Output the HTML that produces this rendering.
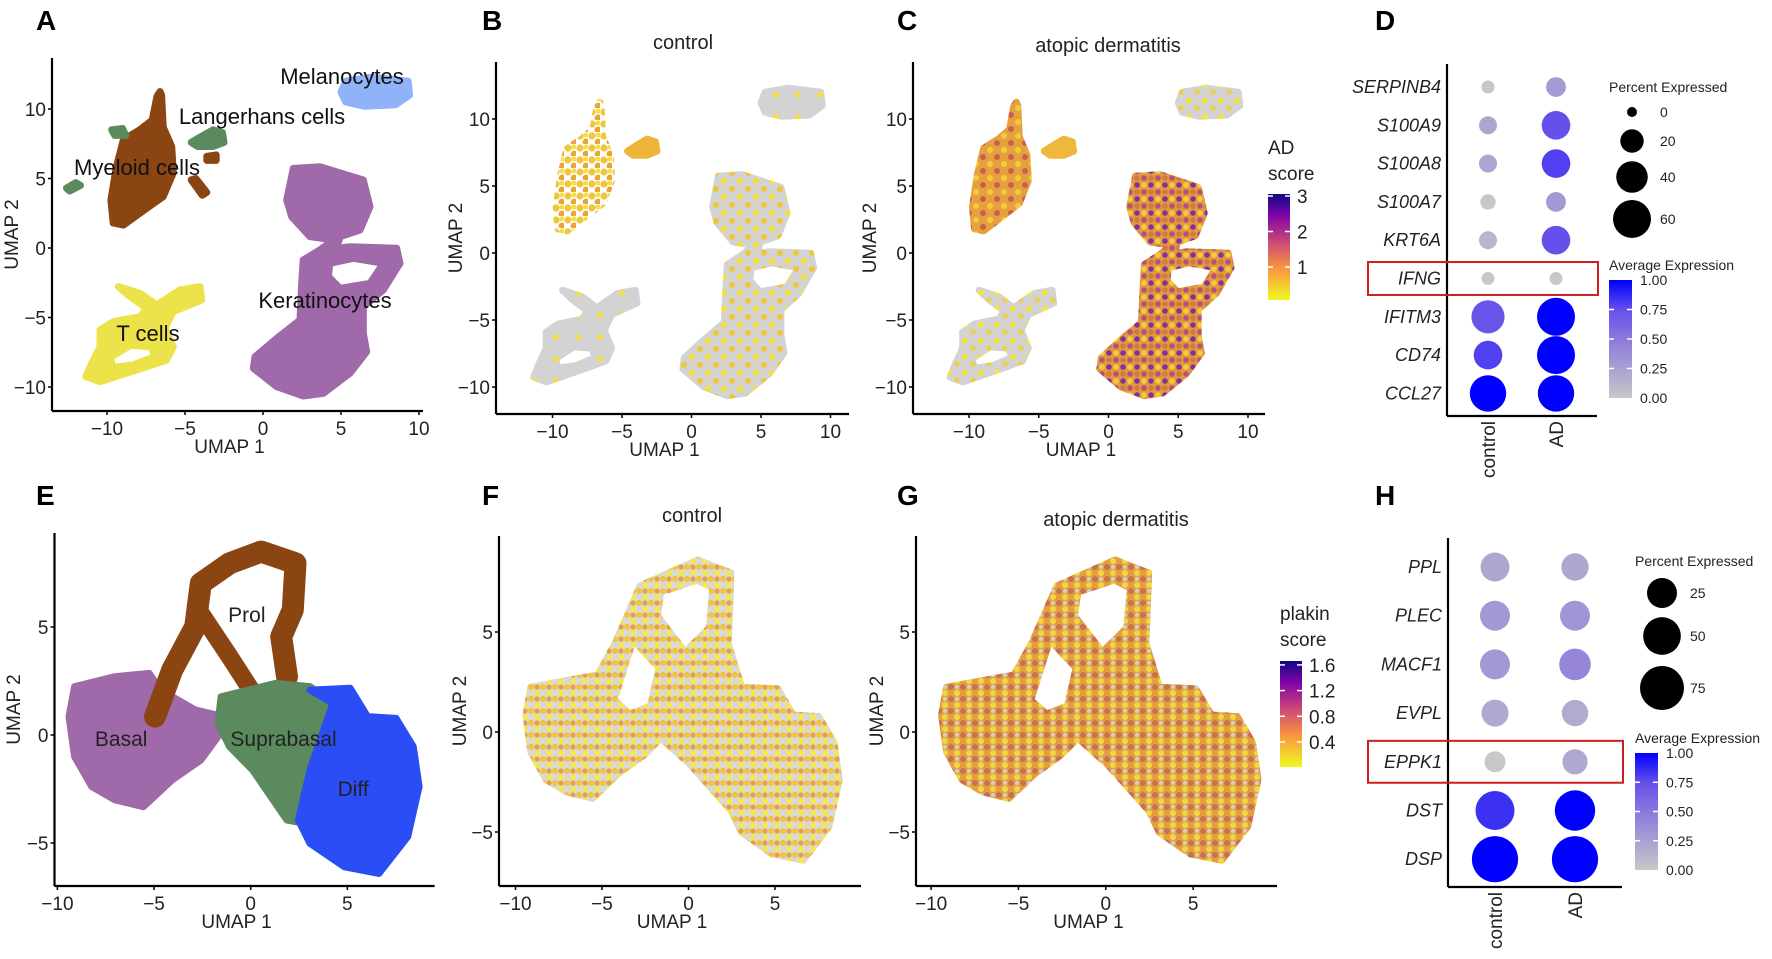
<!DOCTYPE html>
<html><head><meta charset="utf-8">
<style>
html,body{margin:0;padding:0;background:#fff;}
svg{display:block;font-family:"Liberation Sans",sans-serif;}
.t{font-size:19px;fill:#222;}
.lab{font-size:22px;fill:#111;}
.big{font-size:28px;font-weight:bold;fill:#000;}
.gene{font-size:18px;font-style:italic;fill:#222;}
.leg{font-size:14px;fill:#222;}
</style></head>
<body>
<svg id="fig" width="1772" height="959" viewBox="0 0 1772 959">
<defs>
 <pattern id="patKB" width="16" height="16" patternUnits="userSpaceOnUse"><rect width="16" height="16" fill="#d3d3d3"/><circle cx="4" cy="5" r="3.2" fill="#f3df3e"/><circle cx="12" cy="13" r="3" fill="#efc63a"/></pattern>
 <pattern id="patGB" width="22" height="22" patternUnits="userSpaceOnUse"><rect width="22" height="22" fill="#d3d3d3"/><circle cx="6" cy="7" r="3" fill="#f3e03e"/></pattern>
 <pattern id="patMB" width="12" height="12" patternUnits="userSpaceOnUse"><circle cx="4" cy="4" r="3.6" fill="#f0c63c"/><circle cx="10" cy="10" r="3.4" fill="#e8a53a"/><circle cx="10" cy="3" r="2.5" fill="#f5df45"/></pattern>
 <pattern id="patKC" width="14" height="14" patternUnits="userSpaceOnUse"><rect width="14" height="14" fill="#e09a3e"/><circle cx="3" cy="3" r="2.8" fill="#8a2e9a"/><circle cx="10" cy="10" r="2.8" fill="#b8507a"/><circle cx="10" cy="3" r="2.8" fill="#f2cc3c"/><circle cx="3" cy="10" r="2.8" fill="#d07a44"/></pattern>
 <pattern id="patMC" width="14" height="14" patternUnits="userSpaceOnUse"><rect width="14" height="14" fill="#e6a03e"/><circle cx="3" cy="3" r="3" fill="#c8604e"/><circle cx="10" cy="10" r="3" fill="#f2cc3c"/></pattern>
 <pattern id="patGC" width="16" height="16" patternUnits="userSpaceOnUse"><rect width="16" height="16" fill="#d3d3d3"/><circle cx="5" cy="5" r="3" fill="#f4e43e"/><circle cx="13" cy="12" r="2.6" fill="#f1d040"/></pattern>
 <pattern id="patF" width="12" height="12" patternUnits="userSpaceOnUse"><rect width="12" height="12" fill="#d8d8d8"/><circle cx="3" cy="3" r="3" fill="#f1c43c"/><circle cx="9" cy="9" r="3" fill="#f5e84a"/><circle cx="9" cy="3" r="2.6" fill="#e6a040"/></pattern>
 <pattern id="patG" width="12" height="12" patternUnits="userSpaceOnUse"><rect width="12" height="12" fill="#e3a042"/><circle cx="3" cy="3" r="3" fill="#c8704a"/><circle cx="9" cy="9" r="3" fill="#f3d640"/><circle cx="9" cy="3" r="2" fill="#d0d0d0"/></pattern>
 <linearGradient id="plasma" x1="0" y1="1" x2="0" y2="0"><stop offset="0" stop-color="#f0f921"/><stop offset="0.3" stop-color="#f89540"/><stop offset="0.55" stop-color="#cc4778"/><stop offset="0.8" stop-color="#7e03a8"/><stop offset="1" stop-color="#0d0887"/></linearGradient>
 <linearGradient id="blueg" x1="0" y1="1" x2="0" y2="0"><stop offset="0" stop-color="#c8c8c8"/><stop offset="0.25" stop-color="#aaa0d2"/><stop offset="0.5" stop-color="#8c78dc"/><stop offset="0.75" stop-color="#6450eb"/><stop offset="1" stop-color="#0000ff"/></linearGradient>
</defs>
</svg>
<script>
// ---------- UMAP cluster outlines (UMAP coordinates) ----------
const melanocytes=[[5.0,11.2],[5.3,12.0],[7,12.3],[9.3,12.0],[9.4,11.0],[8.5,10.3],[6.5,10.2],[5.3,10.5]];
const myeloid=[[-6.6,11.25],[-6.5,11.0],[-6.4,8.7],[-5.85,7.3],[-5.75,5.4],[-6.4,3.7],[-7.9,2.5],[-8.95,1.65],[-9.6,1.8],[-9.75,3.45],[-9.4,5.85],[-8.95,7.8],[-7.9,8.5],[-7.1,9.2],[-6.8,10.9]];
const langerhans=[[-4.6,7.6],[-4.0,8.0],[-3.2,8.5],[-2.6,8.3],[-2.5,7.6],[-3.2,7.3],[-4.2,7.3]];
const langSmall1=[[-9.7,8.5],[-9.0,8.6],[-8.8,8.1],[-9.5,8.1]];
const langSmall2=[[-12.6,4.3],[-12.0,4.7],[-11.7,4.5],[-12.4,4.1]];
const myeSmall1=[[-4.6,4.9],[-4.3,5.0],[-3.6,4.0],[-3.9,3.8]];
const myeSmall2=[[-3.6,6.6],[-3.0,6.7],[-3.0,6.3],[-3.6,6.3]];
const tcells=[[-9.27,-2.78],[-7.88,-3.26],[-6.81,-4.1],[-5.32,-3.02],[-4.04,-2.78],[-3.93,-3.74],[-5.75,-4.58],[-6.28,-5.78],[-5.75,-7.1],[-6.17,-8.06],[-8.1,-8.78],[-10.45,-9.62],[-11.35,-9.26],[-10.98,-8.3],[-10.45,-7.1],[-10.45,-5.9],[-9.6,-5.3],[-7.88,-4.94],[-7.46,-4.34],[-8.53,-3.5]];
const tHole=[[-9.8,-7.9],[-8.5,-7.0],[-7.2,-7.1],[-6.9,-7.8],[-8.3,-8.4],[-9.6,-8.6]];
const kerat=[[1.94,5.73],[3.65,5.85],[6.43,4.89],[6.86,2.97],[6.22,1.29],[4.94,0.81],[4.72,-0.02],[5.58,0.09],[8.57,-0.02],[8.78,-1.1],[7.71,-3.02],[6.43,-4.22],[6.43,-6.14],[6.65,-7.46],[5.58,-9.01],[3.87,-10.45],[2.58,-10.65],[0.88,-9.98],[-0.62,-8.65],[-0.51,-7.82],[0.88,-6.5],[2.37,-5.18],[2.48,-2.54],[2.58,-0.86],[3.65,-0.14],[4.51,0.58],[3.01,0.81],[1.84,2.25],[1.52,3.45]];
const kHole=[[4.29,-1.1],[5.79,-0.74],[7.71,-1.1],[6.86,-2.54],[4.94,-2.9],[4.19,-2.06]];
// keratinocyte subclusters (bottom row)
const basal=[[-9.11,2.24],[-7.03,2.7],[-5.25,2.85],[-4.66,2.08],[-2.87,1.16],[-1.39,0.85],[-1.69,-0.08],[-2.58,-1.16],[-4.06,-2.08],[-5.55,-3.32],[-7.03,-3.0],[-8.22,-2.39],[-9.11,-1.0],[-9.4,0.85]];
const prolArc=[[-4.95,0.85],[-4.06,3.01],[-2.87,5.01],[-2.58,7.02],[-1.09,7.95],[0.54,8.49],[2.32,7.95],[2.18,5.79],[1.58,4.55],[1.88,2.7]];
const prolDiag=[[-2.58,5.63],[-1.09,3.63],[0.25,1.77]];
const suprab=[[-1.53,1.77],[1.28,2.39],[3.07,2.24],[4.26,1.47],[3.66,-0.08],[3.07,-1.62],[2.77,-4.09],[1.88,-3.94],[0.1,-1.62],[-1.09,-0.54],[-1.69,0.54]];
const diff=[[3.07,2.08],[5.15,2.16],[6.04,0.85],[7.52,0.77],[8.41,-0.54],[8.71,-2.39],[8.12,-4.71],[6.63,-6.41],[4.85,-6.1],[3.07,-5.02],[2.47,-3.94],[3.07,-1.62],[3.66,-0.08],[4.26,1.47]];
const allBottom=[[-9.11,2.24],[-5.25,2.85],[-4.2,4.5],[-2.8,7.3],[0.54,8.6],[2.45,7.95],[2.3,4.4],[3.07,2.24],[5.15,2.16],[6.04,0.85],[7.52,0.77],[8.41,-0.54],[8.71,-2.39],[8.12,-4.71],[6.63,-6.41],[4.85,-6.1],[3.07,-5.02],[2.47,-3.94],[0.1,-1.62],[-1.6,-0.3],[-2.58,-1.16],[-4.06,-2.08],[-5.55,-3.32],[-7.03,-3.0],[-8.22,-2.39],[-9.11,-1.0],[-9.4,0.85]];
const bottomHole=[[-4.3,1.6],[-3.2,4.6],[-1.7,3.2],[-2.2,1.3],[-3.4,0.9]];
const bottomHole2=[[-1.6,7.0],[0.5,7.6],[1.4,7.2],[1.2,5.2],[-0.2,4.0],[-1.8,5.8]];
// axis ticks
const ticksTop=[-10,-5,0,5,10];
const ticksBotX=[-10,-5,0,5];
const ticksBotY=[-5,0,5];
// dot plot D
const genesD=["SERPINB4","S100A9","S100A8","S100A7","KRT6A","IFNG","IFITM3","CD74","CCL27"];
const pctCtrlD=[3,10,10,6,10,3,45,32,55];
const pctAdD=[13,32,32,13,32,3,60,60,55];
const expCtrlD=[0.0,0.22,0.22,0.0,0.12,0.0,0.72,0.8,1.0];
const expAdD=[0.28,0.75,0.8,0.3,0.75,0.0,1.0,1.0,1.0];
const sizeTicksD=[0,20,40,60];
// dot plot H
const genesH=["PPL","PLEC","MACF1","EVPL","EPPK1","DST","DSP"];
const pctCtrlH=[22,25,25,17,3,55,85];
const pctAdH=[18,25,30,15,12,60,85];
const expCtrlH=[0.22,0.3,0.3,0.2,0.0,0.85,1.0];
const expAdH=[0.22,0.32,0.42,0.18,0.2,1.0,1.0];
const sizeTicksH=[25,50,75];
const colorTicks=["1.00","0.75","0.50","0.25","0.00"];
const adTicks=[3,2,1];
const plakinTicks=[1.6,1.2,0.8,0.4];

const NS="http://www.w3.org/2000/svg";
const svg=document.getElementById('fig');
function el(tag,attrs,parent,text){const e=document.createElementNS(NS,tag);for(const k in attrs)e.setAttribute(k,attrs[k]);if(text!==undefined)e.textContent=text;(parent||svg).appendChild(e);return e;}
function axis(x0,sx,y0,sy){return {x:v=>x0+v*sx,y:v=>y0-v*sy};}
function pathOf(ax,pts){return 'M'+pts.map(p=>ax.x(p[0]).toFixed(1)+','+ax.y(p[1]).toFixed(1)).join('L')+'Z';}
function openPath(ax,pts){return 'M'+pts.map(p=>ax.x(p[0]).toFixed(1)+','+ax.y(p[1]).toFixed(1)).join('L');}
function poly(ax,outer,holes,fill,name){const g=el('path',{d:pathOf(ax,outer)+(holes||[]).map(h=>pathOf(ax,h)).join(''),fill:fill,'fill-rule':'evenodd',stroke:fill,'stroke-width':7,'stroke-linejoin':'round'});
 
 return g;}
function text(x,y,s,cls,anchor,name,extra){const t=el('text',Object.assign({x:x,y:y,class:cls,'text-anchor':anchor||'start'},extra||{}),svg,s);
 
 return t;}
function frame(ax,left,right,top,bottom,xt,yt,ylabX,name){
 const g=el('g',{});
 
 
 el('line',{x1:left,y1:top,x2:left,y2:bottom,stroke:'#000','stroke-width':2.2},g);
 el('line',{x1:left,y1:bottom,x2:right,y2:bottom,stroke:'#000','stroke-width':2.2},g);
 xt.forEach(v=>{el('line',{x1:ax.x(v),y1:bottom,x2:ax.x(v),y2:bottom+4,stroke:'#000','stroke-width':1.5},g);
  const t=el('text',{x:ax.x(v),y:bottom+24,class:'t','text-anchor':'middle'},g,v<0?'\u2212'+(-v):String(v));
  
  });
 yt.forEach(v=>{el('line',{x1:left-4,y1:ax.y(v),x2:left,y2:ax.y(v),stroke:'#000','stroke-width':1.5},g);
  const t=el('text',{x:left-6,y:ax.y(v)+7,class:'t','text-anchor':'end'},g,v<0?'\u2212'+(-v):String(v));
  
  });
 const xl=el('text',{x:(left+right)/2-8,y:bottom+42,class:'t','text-anchor':'middle'},g,'UMAP 1');
 
 
 const yl=el('text',{x:0,y:0,class:'t','text-anchor':'middle',transform:`translate(${ylabX},${(top+bottom)/2}) rotate(-90)`},g,'UMAP 2');
 
 
}
// ---------- Panel A ----------
const axA=axis(263,15.6,248,13.9);
poly(axA,melanocytes,[], '#8fb2f8','melanocytes-cluster');
poly(axA,myeloid,[], '#8b4513','myeloid-cluster');
poly(axA,myeSmall1,[], '#8b4513','myeloid-fragment');
poly(axA,myeSmall2,[], '#8b4513','myeloid-fragment');
poly(axA,langerhans,[], '#5a8a5e','langerhans-cluster');
poly(axA,langSmall1,[], '#5a8a5e','langerhans-fragment');
poly(axA,langSmall2,[], '#5a8a5e','langerhans-fragment');
poly(axA,tcells,[tHole], '#ece34a','tcell-cluster');
poly(axA,kerat,[kHole], '#a06aaa','keratinocyte-cluster');
frame(axA,52,423,58,411,ticksTop,ticksTop,18,'panel-a');
text(342,84,'Melanocytes','lab','middle','label-melanocytes');
text(262,124,'Langerhans cells','lab','middle','label-langerhans');
text(137,175,'Myeloid cells','lab','middle','label-myeloid');
text(148,341,'T cells','lab','middle','label-tcells');
text(325,308,'Keratinocytes','lab','middle','label-keratinocytes');
text(36,30,'A','big','start','panel-a-letter');
// ---------- Panel B ----------
const axB=axis(691.5,13.9,253,13.4);
poly(axB,melanocytes,[], 'url(#patGB)','melanocytes-control');
poly(axB,myeloid,[], 'url(#patMB)','myeloid-control');
poly(axB,langerhans,[], '#efb53a','langerhans-control');
poly(axB,tcells,[tHole], 'url(#patGB)','tcells-control');
poly(axB,kerat,[kHole], 'url(#patKB)','keratinocytes-control');
frame(axB,496,849,62,414,ticksTop,ticksTop,462,'panel-b');
text(683,49,'control','t','middle','panel-b-title',{style:'font-size:20px'});
text(482,30,'B','big','start','panel-b-letter');
// ---------- Panel C ----------
const axC=axis(1108.5,13.95,253,13.4);
poly(axC,melanocytes,[], 'url(#patGC)','melanocytes-ad');
poly(axC,myeloid,[], 'url(#patMC)','myeloid-ad');
poly(axC,langerhans,[], '#eeb83c','langerhans-ad');
poly(axC,tcells,[tHole], 'url(#patGC)','tcells-ad');
poly(axC,kerat,[kHole], 'url(#patKC)','keratinocytes-ad');
frame(axC,913,1265,62,414,ticksTop,ticksTop,876,'panel-c');
text(1108,52,'atopic dermatitis','t','middle','panel-c-title',{style:'font-size:20px'});
text(897,30,'C','big','start','panel-c-letter');
text(1268,154,'AD','t','start','ad-legend-title');
text(1268,180,'score','t','start','ad-legend-title2');
el('rect',{x:1268,y:194,width:22,height:106,fill:'url(#plasma)'});
const adY=v=>267-(v-1)*35.5;
adTicks.forEach(v=>{el('line',{x1:1268,y1:adY(v),x2:1273,y2:adY(v),stroke:'#fff','stroke-width':1.5});el('line',{x1:1285,y1:adY(v),x2:1290,y2:adY(v),stroke:'#fff','stroke-width':1.5});
 text(1297,adY(v)+7,String(v),'t','start','ad-colorbar-tick');});
// ---------- dot plots ----------
function blueCol(e){const stops=[[200,200,200],[170,160,210],[140,120,220],[100,80,235],[0,0,255]];const f=e*4,i=Math.min(3,Math.floor(f)),t=f-i;const a=stops[i],b=stops[i+1];return `rgb(${a.map((c,k)=>Math.round(c+(b[k]-c)*t)).join(',')})`;}
function dotPlot(o){
 const axl=el('g',{});
 
 
 el('line',{x1:o.ax,y1:o.top,x2:o.ax,y2:o.bottom,stroke:'#000','stroke-width':2.2},axl);
 el('line',{x1:o.ax,y1:o.bottom,x2:o.right,y2:o.bottom,stroke:'#000','stroke-width':2.2},axl);
 const rowY=i=>o.y0+i*o.dy;
 o.genes.forEach((g,i)=>{
  text(o.ax-6,rowY(i)+6,g,'gene','end','gene-label-'+g.toLowerCase());
  [[o.cx0,o.pc[i],o.ec[i]],[o.cx1,o.pa[i],o.ea[i]]].forEach((d,j)=>{
   const c=el('circle',{cx:d[0],cy:rowY(i),r:o.rf(d[1]).toFixed(1),fill:blueCol(d[2])});
   
   
  });
 });
 [['control',o.cx0],['AD',o.cx1]].forEach(d=>{
  text(0,0,d[0],'t','end','x-label-'+d[0].toLowerCase(),{transform:`translate(${d[1]+7},${o.bottom+5}) rotate(-90)`,style:'font-size:19px'});
 });
 const hi=o.genes.indexOf(o.box);
 const b=el('rect',{x:o.boxX,y:rowY(hi)-o.dy*0.43,width:o.right+1-o.boxX,height:o.dy*0.86,fill:'none',stroke:'#cc1f1f','stroke-width':2});
 
 
 text(o.lx,o.ly,'Percent Expressed','leg','start','legend-percent-title');
 o.sizes.forEach((s,i)=>{const c=el('circle',{cx:o.lcx,cy:o.sy[i],r:o.rf(s),fill:'#000'});
  
  
  text(o.lcx+28,o.sy[i]+5,String(s),'leg','start','legend-size-label');});
 text(o.lx,o.cy-10,'Average Expression','leg','start','legend-color-title');
 el('rect',{x:o.lx,y:o.cy,width:23,height:o.ch,fill:'url(#blueg)'});
 colorTicks.forEach((t,i)=>{const yy=o.cy+i*o.ch/4;
  if(i>0&&i<4){el('line',{x1:o.lx,y1:yy,x2:o.lx+5,y2:yy,stroke:'#fff','stroke-width':1.5});el('line',{x1:o.lx+18,y1:yy,x2:o.lx+23,y2:yy,stroke:'#fff','stroke-width':1.5});}
  text(o.lx+31,yy+5,t,'leg','start','colorbar-tick');});
}
dotPlot({name:'panel-d',genes:genesD,pc:pctCtrlD,pa:pctAdD,ec:expCtrlD,ea:expAdD,ax:1447,top:64,bottom:416,right:1597,
 y0:87,dy:38.3,cx0:1488,cx1:1556,rf:p=>Math.sqrt(25+5.6*p),box:'IFNG',boxX:1368,
 lx:1609,ly:92,lcx:1632,sizes:sizeTicksD,sy:[112,141,177,219],cy:280,ch:118});
dotPlot({name:'panel-h',genes:genesH,pc:pctCtrlH,pa:pctAdH,ec:expCtrlH,ea:expAdH,ax:1448,top:538,bottom:887,right:1622,
 y0:567,dy:48.7,cx0:1495,cx1:1575,rf:p=>Math.sqrt(95.5+5.18*p),box:'EPPK1',boxX:1368,
 lx:1635,ly:566,lcx:1662,sizes:sizeTicksH,sy:[593,636,688],cy:753,ch:117});
text(1375,30,'D','big','start','panel-d-letter');
text(1375,505,'H','big','start','panel-h-letter');
// ---------- Panel E ----------
const axE=axis(250.7,19.33,735,21.6);
poly(axE,basal,[], '#a06aaa','basal-cluster');
const pa=el('path',{d:openPath(axE,prolArc),fill:'none',stroke:'#8b4513','stroke-width':22,'stroke-linejoin':'round','stroke-linecap':'round'});


const pd=el('path',{d:openPath(axE,prolDiag),fill:'none',stroke:'#8b4513','stroke-width':18,'stroke-linecap':'round'});


poly(axE,suprab,[], '#5a8a5e','suprabasal-cluster');
poly(axE,diff,[], '#2a4df5','diff-cluster');
frame(axE,54.5,434.6,533,886,ticksBotX,ticksBotY,20,'panel-e');
text(axE.x(-0.2),axE.y(5.6)+8,'Prol','t','middle','label-prol',{style:'font-size:21px'});
text(axE.x(-6.7),axE.y(-0.15)+8,'Basal','t','middle','label-basal',{style:'font-size:21px'});
text(axE.x(1.7),axE.y(-0.15)+8,'Suprabasal','t','middle','label-suprabasal',{style:'font-size:21px'});
text(axE.x(5.3),axE.y(-2.45)+8,'Diff','t','middle','label-diff',{style:'font-size:21px'});
text(36,505,'E','big','start','panel-e-letter');
// ---------- Panel F & G ----------
function plakin(ax,fill,name){
 poly(ax,allBottom,[bottomHole,bottomHole2],fill,name+'-cells');
}
const axF=axis(688.5,17.3,732,20);
plakin(axF,'url(#patF)','panel-f');
frame(axF,499,861,536,886,ticksBotX,ticksBotY,466,'panel-f');
text(692,522,'control','t','middle','panel-f-title',{style:'font-size:20px'});
text(482,505,'F','big','start','panel-f-letter');
const axG=axis(1105.8,17.47,732,20);
plakin(axG,'url(#patG)','panel-g');
frame(axG,916,1277,536,886,ticksBotX,ticksBotY,883,'panel-g');
text(1116,526,'atopic dermatitis','t','middle','panel-g-title',{style:'font-size:20px'});
text(897,505,'G','big','start','panel-g-letter');
text(1280,620,'plakin','t','start','plakin-legend-title');
text(1280,646,'score','t','start','plakin-legend-title2');
el('rect',{x:1280,y:661,width:22,height:106,fill:'url(#plasma)'});
const pkY=v=>742-(v-0.4)/0.4*25.7;
plakinTicks.forEach(v=>{el('line',{x1:1280,y1:pkY(v),x2:1285,y2:pkY(v),stroke:'#fff','stroke-width':1.5});el('line',{x1:1297,y1:pkY(v),x2:1302,y2:pkY(v),stroke:'#fff','stroke-width':1.5});
 text(1309,pkY(v)+7,String(v),'t','start','plakin-colorbar-tick');});
</script>
</body></html>
